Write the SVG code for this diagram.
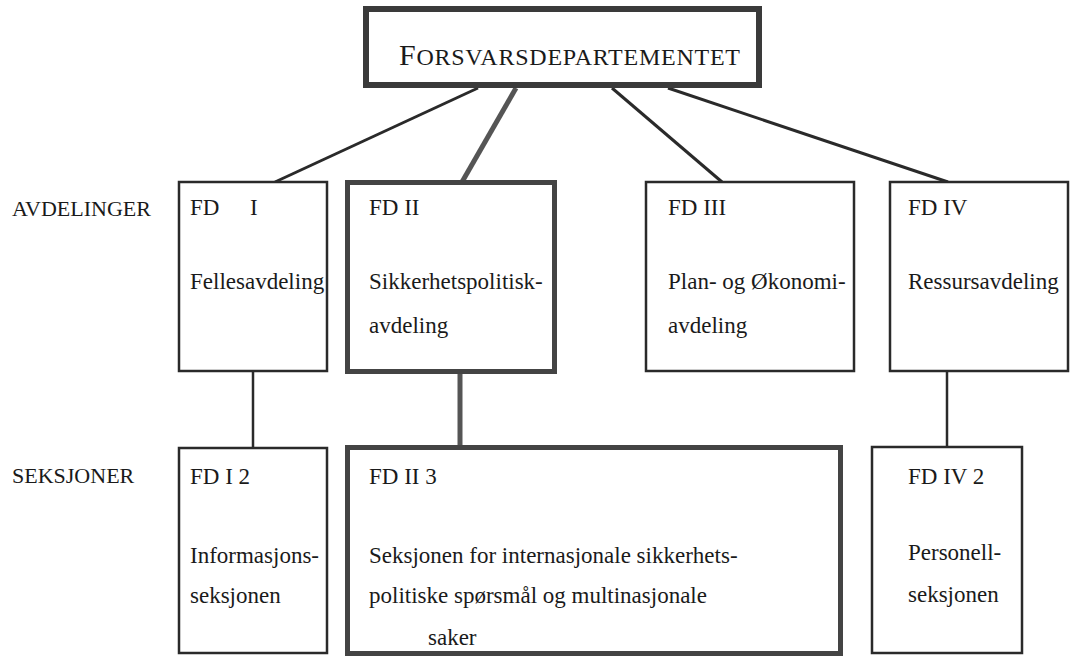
<svg xmlns="http://www.w3.org/2000/svg" width="1072" height="656" viewBox="0 0 1072 656">
<style>
text{font-family:"Liberation Serif","Times New Roman",serif;fill:#1a1a1a;font-size:23px}
.thin{fill:#fff;stroke:#2a2a2a;stroke-width:2.5}
.thick{fill:#fff;stroke:#444;stroke-width:5}
.top{fill:#fff;stroke:#3a3a3a;stroke-width:6}
.c{stroke:#2a2a2a;stroke-width:3;fill:none}
.ct{stroke:#555;stroke-width:5;fill:none}
.lbl{font-size:22px}
</style>
<rect width="1072" height="656" fill="#fff"/>
<g id="connectors">
<line class="c" x1="478" y1="88" x2="275" y2="182"/>
<line class="ct" x1="516" y1="88" x2="462" y2="182"/>
<line class="c" x1="612" y1="88" x2="722" y2="182"/>
<line class="c" x1="668" y1="88" x2="948" y2="182"/>
<line class="c" x1="253" y1="372" x2="253" y2="448" style="stroke-width:2.5"/>
<line class="ct" x1="460" y1="374" x2="460" y2="447"/>
<line class="c" x1="947" y1="372" x2="947" y2="447" style="stroke-width:2.5"/>
</g>
<g id="top">
<rect class="top" x="366" y="9" width="393" height="76"/>
<text x="399" y="65" textLength="341" lengthAdjust="spacing"><tspan font-size="30">F</tspan><tspan font-size="24">ORSVARSDEPARTEMENTET</tspan></text>
</g>
<g id="labels">
<text class="lbl" x="12" y="216">AVDELINGER</text>
<text class="lbl" x="12" y="483">SEKSJONER</text>
</g>
<g id="fd1">
<rect class="thin" x="179" y="182" width="148" height="189"/>
<text x="190" y="215">FD</text>
<text x="250" y="215">I</text>
<text x="190" y="289">Fellesavdeling</text>
</g>
<g id="fd2">
<rect class="thick" x="347.5" y="182.5" width="207" height="189"/>
<text x="369" y="215">FD II</text>
<text x="369" y="289">Sikkerhetspolitisk-</text>
<text x="369" y="333">avdeling</text>
</g>
<g id="fd3">
<rect class="thin" x="646" y="182" width="208" height="189"/>
<text x="668" y="215">FD III</text>
<text x="668" y="289">Plan- og Økonomi-</text>
<text x="668" y="333">avdeling</text>
</g>
<g id="fd4">
<rect class="thin" x="890" y="182" width="178" height="189"/>
<text x="908" y="215">FD IV</text>
<text x="908" y="289">Ressursavdeling</text>
</g>
<g id="fd1-2">
<rect class="thin" x="179" y="448" width="148" height="205"/>
<text x="190" y="484">FD I 2</text>
<text x="190" y="563">Informasjons-</text>
<text x="190" y="603">seksjonen</text>
</g>
<g id="fd2-3">
<rect class="thick" x="347.5" y="447.5" width="493" height="206"/>
<text x="369" y="484">FD II 3</text>
<text x="369" y="563">Seksjonen for internasjonale sikkerhets-</text>
<text x="369" y="603">politiske spørsmål og multinasjonale</text>
<text x="428" y="645">saker</text>
</g>
<g id="fd4-2">
<rect class="thin" x="872" y="447" width="150" height="206"/>
<text x="908" y="484">FD IV 2</text>
<text x="908" y="560">Personell-</text>
<text x="908" y="602">seksjonen</text>
</g>
</svg>
